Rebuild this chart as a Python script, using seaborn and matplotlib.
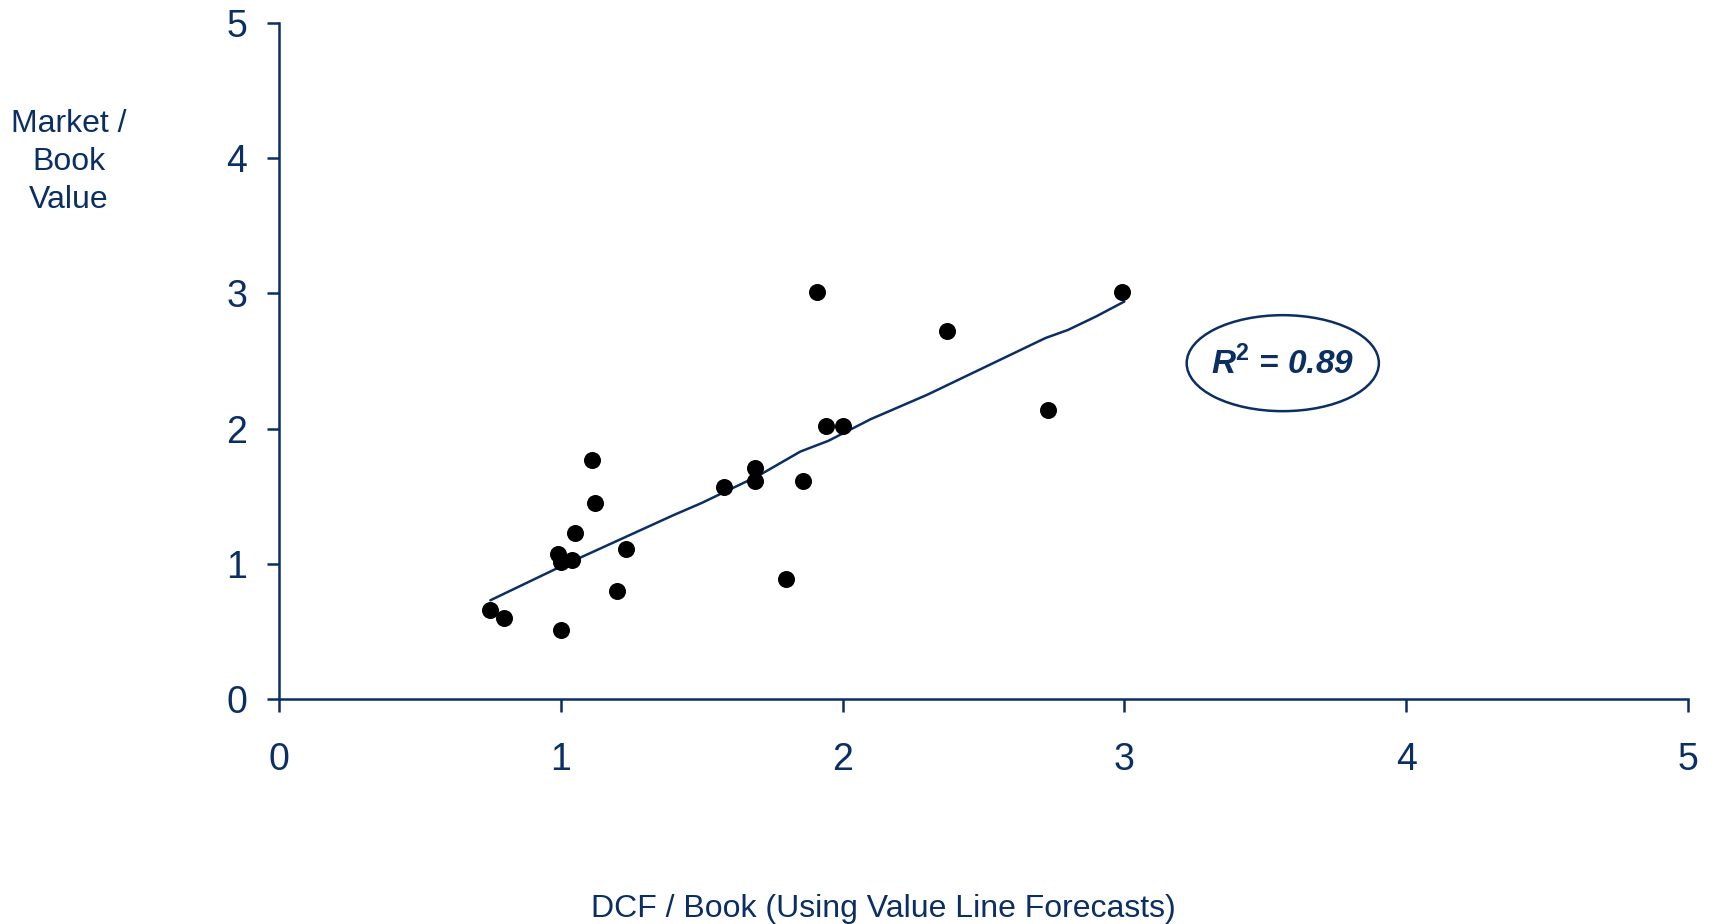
import matplotlib
matplotlib.use("Agg")
import matplotlib.pyplot as plt
from matplotlib.patches import Ellipse
import seaborn as sns
import pandas as pd

# Data
dcf_book = [0.75, 0.80, 1.00, 0.99, 1.00, 1.04, 1.05, 1.11, 1.12, 1.23, 1.20,
            1.58, 1.69, 1.69, 1.80, 1.86, 1.91, 1.94, 2.00, 2.37, 2.73, 2.99]
market_book = [0.66, 0.60, 0.51, 1.07, 1.01, 1.03, 1.23, 1.77, 1.45, 1.11, 0.80,
               1.57, 1.71, 1.61, 0.89, 1.61, 3.01, 2.02, 2.02, 2.72, 2.14, 3.01]

trend_x = [0.75, 0.85, 1.00, 1.20, 1.40, 1.50, 1.70, 1.85, 1.95, 2.10, 2.30, 2.50, 2.65, 2.72, 2.80, 2.90, 3.00]
trend_y = [0.73, 0.83, 0.98, 1.17, 1.36, 1.45, 1.65, 1.83, 1.91, 2.07, 2.25, 2.45, 2.60, 2.67, 2.73, 2.83, 2.94]

ticks = [0, 1, 2, 3, 4, 5]

NAVY = "#0b2f63"

sns.set_theme(style="white")
plt.rcParams['font.family'] = ['Liberation Sans', 'DejaVu Sans']
plt.rcParams['mathtext.fontset'] = 'custom'
plt.rcParams['mathtext.bfit'] = 'Liberation Sans:bold:italic'
plt.rcParams['mathtext.bf'] = 'Liberation Sans:bold'

fig = plt.figure(figsize=(17.12, 9.24), dpi=100)
L, R, B, T = 279, 1688, 699, 23
ax = fig.add_axes([L/1712, 1 - B/924, (R - L)/1712, (B - T)/924])

pts = pd.DataFrame({"x": dcf_book, "y": market_book})
trend = pd.DataFrame({"x": trend_x, "y": trend_y})

sns.lineplot(data=trend, x="x", y="y", ax=ax, color=NAVY, linewidth=1.8, zorder=2)
sns.scatterplot(data=pts, x="x", y="y", ax=ax, color="black", s=150,
                edgecolor="black", linewidth=0, zorder=3)

ax.set_xlim(0, 5)
ax.set_ylim(0, 5)
ax.set_xticks(ticks)
ax.set_yticks(ticks)
ax.set_xticklabels([str(t) for t in ticks])
ax.set_yticklabels([str(t) for t in ticks])
ax.set_xlabel("")
ax.set_ylabel("")

for s in ["top", "right"]:
    ax.spines[s].set_visible(False)
for s in ["left", "bottom"]:
    ax.spines[s].set_color(NAVY)
    ax.spines[s].set_linewidth(1.8)

ax.tick_params(axis="x", direction="out", length=9, width=1.8, color=NAVY,
               labelcolor=NAVY, labelsize=27, pad=22, bottom=True)
ax.tick_params(axis="y", direction="out", length=9, width=1.8, color=NAVY,
               labelcolor=NAVY, labelsize=27, pad=14, left=True)

# R^2 annotation inside ellipse
ell = Ellipse((3.562, 2.484), 0.682, 0.71, fill=False, edgecolor=NAVY, linewidth=1.8,
              transform=ax.transData, zorder=4)
ax.add_patch(ell)
ax.text(3.562, 2.484, "$\\mathbfit{R}^{\\mathbf{2}}$ = 0.89", color=NAVY, fontsize=24,
        fontweight="bold", fontstyle="italic", ha="center", va="center", zorder=5)

fig.text(69/1712, 1 - 162/924, "Market /\nBook\nValue", color=NAVY, fontsize=23,
         ha="center", va="center", linespacing=1.35)
fig.text(883/1712, 1 - 909/924, "DCF / Book (Using Value Line Forecasts)", color=NAVY,
         fontsize=23, ha="center", va="center")

fig.savefig("out.png", dpi=100)
